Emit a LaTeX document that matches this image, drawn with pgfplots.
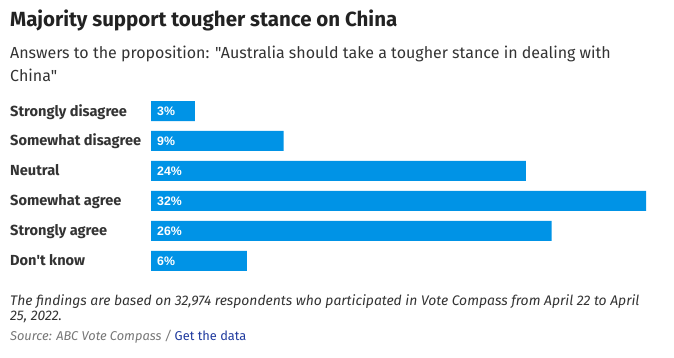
\documentclass[border=0pt]{standalone}
\usepackage{fontspec}
\setmainfont{Fira Sans}[Ligatures=TeXOff]
\newfontfamily\arialfont{Liberation Sans}[Ligatures=TeXOff]
\usepackage{pgfplots}
\usepackage{pgfplotstable}
\pgfplotsset{compat=1.18}
\definecolor{barblue}{HTML}{0093E6}
\definecolor{titlecol}{HTML}{222222}
\definecolor{textcol}{HTML}{333333}
\definecolor{srccol}{HTML}{767676}
\definecolor{linkcol}{HTML}{1F3A9E}
\pgfplotstableread[col sep=comma]{
idx,cat,value,pct
0,Strongly disagree,2.84,3
1,Somewhat disagree,8.58,9
2,Neutral,24.24,24
3,Somewhat agree,32.0,32
4,Strongly agree,25.9,26
5,Don't know,6.19,6
}\datatable
\begin{document}
\begin{tikzpicture}
\path[use as bounding box] (0pt,0pt) rectangle (674pt,-358pt);
\node[anchor=base west, inner sep=0pt, text=titlecol, font=\bfseries\fontsize{20.5}{23}\selectfont] at (10pt,-26.7pt) {Majority support tougher stance on China};
\node[anchor=base west, inner sep=0pt, text=textcol, font=\fontsize{16}{19}\selectfont] at (10pt,-58.3pt) {Answers to the proposition: "Australia should take a tougher stance in dealing with};
\node[anchor=base west, inner sep=0pt, text=textcol, font=\fontsize{16}{19}\selectfont] at (10pt,-81.7pt) {China"};
\begin{axis}[
  at={(151pt,-96pt)}, anchor=north west,
  scale only axis, width=495pt, height=180pt,
  xmin=0, xmax=32, ymin=-0.5, ymax=5.5, y dir=reverse,
  axis line style={draw=none}, major tick length=0pt,
  xtick=\empty,
  ytick={0,1,2,3,4,5},
  yticklabels from table={\datatable}{cat},
  yticklabel style={anchor=base west, inner sep=0pt, xshift=-141pt, yshift=-5pt, text=textcol, font=\bfseries\fontsize{14.6}{16}\selectfont},
  clip=false,
]
\addplot[xbar, bar width=20pt, fill=barblue, draw=none] table[x=value, y=idx] {\datatable};
\addplot[draw=none, mark=none, nodes near coords={\pgfplotspointmeta\%}, point meta=explicit symbolic,
  nodes near coords style={anchor=base west, inner sep=0pt, xshift=6pt, yshift=-4.5pt, text=white, font=\arialfont\bfseries\fontsize{12.3}{15}\selectfont}]
  table[x expr=0, y=idx, meta=pct] {\datatable};
\end{axis}
\node[anchor=base west, inner sep=0pt, text=textcol, font=\itshape\fontsize{13.9}{16}\selectfont] at (10pt,-305.7pt) {The findings are based on 32,974 respondents who participated in Vote Compass from April 22 to April};
\node[anchor=base west, inner sep=0pt, text=textcol, font=\itshape\fontsize{13.9}{16}\selectfont] at (10pt,-320pt) {25, 2022.};
\node[anchor=base west, inner sep=0pt, font=\fontsize{12.8}{15}\selectfont] at (10pt,-340pt) {\textcolor{srccol}{\itshape Source: ABC Vote Compass /} \textcolor{linkcol}{Get the data}};
\end{tikzpicture}
\end{document}
